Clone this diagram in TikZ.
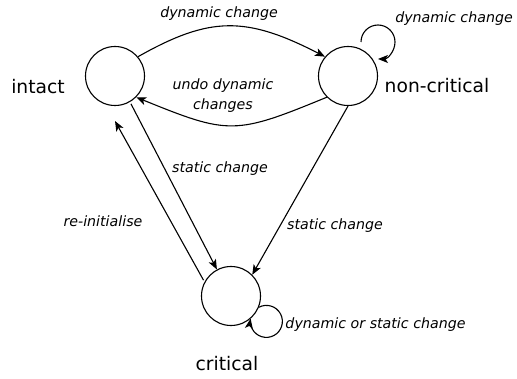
\documentclass[tikz,border=0pt]{standalone}
\usepackage{fontspec}
\setmainfont{DejaVu Sans}
\usetikzlibrary{arrows.meta}
\begin{document}
\begin{tikzpicture}[x=1pt,y=1pt,
  state/.style={circle,draw,line width=1.1pt,minimum size=59pt,inner sep=0pt},
  sname/.style={anchor=base,inner sep=0pt,font=\fontsize{18.7}{22}\selectfont},
  lbl/.style={anchor=base,inner sep=0pt,font=\fontsize{14.2}{20}\selectfont\itshape},
  edge/.style={line width=1.1pt,-{Stealth[length=10pt,width=8pt,inset=2.5pt]}}]
\useasboundingbox (0,0) rectangle (517,378);
% states
\node[state] (I) at (115,302) {};
\node[state] (N) at (348,302) {};
\node[state] (C) at (231,82) {};
% state names
\node[sname] (tI) at (38,284) {intact};
\node[sname] (tN) at (437,285) {non-critical};
\node[sname] (tC) at (227,8) {critical};
% edges
\draw[edge] (I.40) .. controls (210,362) and (246,362) .. (N.140);
\draw[edge] (N.225) .. controls (235,243) and (229,243) .. (I.-45);
\draw[edge] ([shift={(13pt,34pt)}]N.center) arc[start angle=180,end angle=-90,radius=17];
\draw[edge,shorten <=2pt] (I.-60) -- (C.118);
\coordinate (rtip) at (115,257);
\draw[edge,shorten <=2pt] (C.152) -- (rtip);
\draw[edge] (N.-90) -- (C.45);
\draw[edge] (C.-22.6) arc[start angle=118,end angle=-190,radius=16];
% labels
\node[lbl] (l1) at (219,360) {dynamic change};
\node[lbl] (l2) at (454,355) {dynamic change};
\node[lbl,align=center,anchor=center] (l3) at (223,282) {undo dynamic\\changes};
\node[lbl] (l4) at (220,205) {static change};
\node[lbl] (l5) at (103,151) {re-initialise};
\node[lbl] (l6) at (335,148) {static change};
\node[lbl] (l7) at (375.5,50) {dynamic or static change};
\end{tikzpicture}
\end{document}
